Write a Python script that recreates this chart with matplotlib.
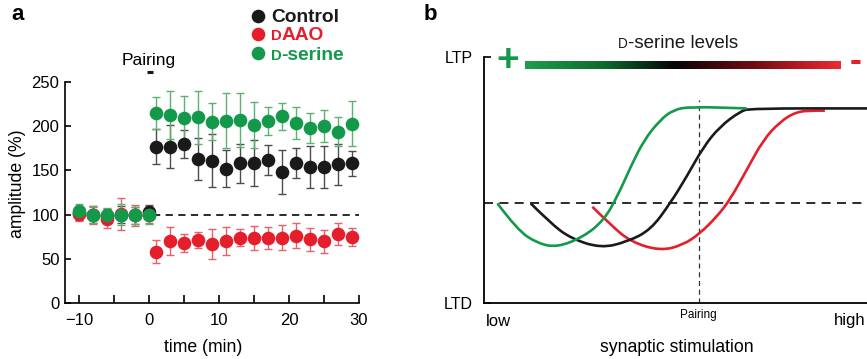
import numpy as np
import matplotlib
matplotlib.use("Agg")
import matplotlib.pyplot as plt
from matplotlib.lines import Line2D
from matplotlib.path import Path
from matplotlib.patches import PathPatch
from matplotlib.colors import LinearSegmentedColormap

plt.rcParams['font.family'] = ['Liberation Sans', 'DejaVu Sans']

# ---------------- panel a data ----------------
t_pre = [-10, -8, -6, -4, -2, 0]
t_post = [1, 3, 5, 7, 9, 11, 13, 15, 17, 19, 21, 23, 25, 27, 29]

control_pre = [102, 100, 98, 100, 99, 103]
control_pre_err = [8, 10, 8, 10, 10, 8]
control_post = [177, 177, 180, 163, 161, 152, 158, 158, 162, 148, 158, 154, 154, 157, 158]
control_post_err = [20, 24, 16, 24, 30, 21, 22, 26, 17, 25, 17, 24, 24, 23, 14]

daao_pre = [101, 99, 95, 101, 99, 100]
daao_pre_err = [8, 10, 10, 18, 12, 10]
daao_post = [58, 70, 68, 71, 67, 70, 74, 73.5, 73.5, 74, 76, 72, 70, 78, 75]
daao_post_err = [13, 16, 10, 9, 17, 16, 10, 14, 12, 14, 14, 13, 13, 12, 10]

serine_pre = [104, 100, 99, 100, 99, 99]
serine_pre_err = [8, 10, 8, 12, 10, 10]
serine_post = [215, 213, 209, 210, 205, 206, 207, 201, 206, 211, 204, 198, 200, 194, 203]
serine_post_err = [18, 27, 25, 30, 21, 31, 30, 26, 16, 15, 18, 17, 18, 16, 25]

baseline = 100
x_ticks = [-10, -5, 0, 5, 10, 15, 20, 25, 30]
x_ticklabels = ['\u221210', '', '0', '', '10', '', '20', '', '30']
y_ticks = [0, 50, 100, 150, 200, 250]

# ---------------- panel b data (schematic curves) ----------------
serine_curve_x = [3.5, 8.7, 13.9, 19.1, 26.1, 31.3, 34.8, 38.3, 41.8, 46.0, 49.4, 53.8, 68.6]
serine_curve_y = [40.5, 29.7, 24.3, 22.6, 27.0, 33.7, 43.2, 55.4, 66.3, 74.4, 78.5, 79.8, 79.1]
control_curve_x = [12.2, 17.4, 22.6, 30.5, 37.4, 43.5, 48.6, 52.9, 57.3, 61.6, 66.8, 69.5, 100]
control_curve_y = [40.5, 32.4, 26.3, 22.3, 24.9, 29.7, 40.5, 51.3, 63.5, 71.7, 77.8, 79.1, 79.1]
daao_curve_x = [28.3, 33.1, 38.3, 46.0, 52.0, 56.4, 60.8, 64.2, 68.6, 72.9, 77.3, 81.6, 86.0, 89.0]
daao_curve_y = [39.1, 31.7, 24.9, 21.2, 23.6, 28.3, 35.1, 41.9, 54.1, 66.3, 73.7, 77.8, 78.2, 78.2]
threshold_level = 40.5
pairing_level = 56.1

GREEN = '#12994a'
RED = '#e41e2b'
BLACK = '#1a1a1a'

W, H = 867, 359
fig = plt.figure(figsize=(W / 100, H / 100), dpi=100)


def fpos(x, y):
    return x / W, 1 - y / H


# ================= panel a =================
ax = fig.add_axes([65 / W, 1 - 303 / H, (359 - 65) / W, (303 - 82) / H])
series = [
    (control_pre + control_post, control_pre_err + control_post_err, BLACK, '#4d4d4d'),
    (daao_pre + daao_post, daao_pre_err + daao_post_err, RED, '#e8606a'),
    (serine_pre + serine_post, serine_pre_err + serine_post_err, GREEN, '#5db06f'),
]
times = t_pre + t_post
for vals, errs, col, ecol in series:
    ax.errorbar(times, vals, yerr=errs, fmt='o', color=col, ms=9.8, mec='none',
                ecolor=ecol, elinewidth=1.0, capsize=2.6, capthick=1.0, zorder=3)

ax.plot([0.6, 30], [baseline, baseline], color=BLACK, lw=1.3, ls=(0, (4, 3)), zorder=1)
ax.plot([-0.3, 0.5], [261, 261], color=BLACK, lw=2.2, clip_on=False, solid_capstyle='butt')
ax.text(0, 274, 'Pairing', ha='center', va='center', fontsize=12.5, clip_on=False)

ax.set_xlim(-12, 30)
ax.set_ylim(0, 250)
ax.set_xticks(x_ticks)
ax.set_xticklabels(x_ticklabels)
ax.set_yticks(y_ticks)
for s in ['top', 'right']:
    ax.spines[s].set_visible(False)
for s in ['left', 'bottom']:
    ax.spines[s].set_linewidth(1.2)
ax.tick_params(axis='x', direction='in', length=5.5, width=1.2, pad=7, labelsize=12)
ax.tick_params(axis='y', direction='in', length=4, width=1.2, pad=4, labelsize=12)
fig.text(*fpos(18, 184), 'amplitude (%)', rotation=90, ha='center', va='center', fontsize=12.7)
fig.text(*fpos(203, 348), 'time (min)', ha='center', va='center', fontsize=12.7)

# legend
renderer = fig.canvas.get_renderer()


def smallcap_text(x, y, first, rest, size, color, weight='normal', ha='left', ratio=0.78):
    t1 = fig.text(0, 0, first, fontsize=size * ratio, color=color, fontweight=weight, va='baseline')
    t2 = fig.text(0, 0, rest, fontsize=size, color=color, fontweight=weight, va='baseline')
    w1 = t1.get_window_extent(renderer).width
    w2 = t2.get_window_extent(renderer).width
    x0 = x if ha == 'left' else x - (w1 + w2) / 2
    t1.set_position(fpos(x0, y))
    t2.set_position(fpos(x0 + w1, y))


for (cy, col) in [(15.7, BLACK), (34.3, RED), (53.3, GREEN)]:
    fig.add_artist(Line2D([258 / W], [1 - cy / H], marker='o', ms=9.8, color=col, mec='none',
                          transform=fig.transFigure))
fig.text(*fpos(271, 22.5), 'Control', fontsize=13.8, fontweight='bold', color=BLACK, va='baseline')
smallcap_text(271, 40.5, 'D', 'AAO', 13.8, RED, 'bold')
smallcap_text(271, 60, 'D', '-serine', 13.8, GREEN, 'bold')

fig.text(*fpos(18, 15), 'a', fontsize=16, fontweight='bold', ha='center', va='center')
fig.text(*fpos(430, 15), 'b', fontsize=16, fontweight='bold', ha='center', va='center')

# ================= panel b =================
bx = fig.add_axes([484 / W, 1 - 303 / H, (W - 484) / W, (303 - 57) / H])
bx.set_xlim(0, 100)
bx.set_ylim(0, 100)
for s in ['top', 'right']:
    bx.spines[s].set_visible(False)
for s in ['left', 'bottom']:
    bx.spines[s].set_linewidth(1.3)
bx.set_xticks([])
bx.set_yticks([0, 100])
bx.set_yticklabels(['LTD', 'LTP'])
bx.tick_params(axis='y', direction='in', length=5, width=1.2, pad=8, labelsize=11.5)


def smooth_path(xs, ys):
    pts = np.column_stack([xs, ys])
    verts = [pts[0]]
    codes = [Path.MOVETO]
    for i in range(1, len(pts) - 1):
        verts += [pts[i], (pts[i] + pts[i + 1]) / 2]
        codes += [Path.CURVE3, Path.CURVE3]
    verts.append(pts[-1])
    codes.append(Path.LINETO)
    return Path(verts, codes)


bx.plot([0, 100], [threshold_level, threshold_level], color=BLACK, lw=1.3, ls=(0, (5, 3.5)), zorder=1)
bx.plot([pairing_level, pairing_level], [0, 82.5], color='#333333', lw=0.9, ls=(0, (4, 3)), zorder=1)

for xs, ys, col, z in [(control_curve_x, control_curve_y, BLACK, 3),
                       (daao_curve_x, daao_curve_y, RED, 2),
                       (serine_curve_x, serine_curve_y, GREEN, 4)]:
    bx.add_patch(PathPatch(smooth_path(xs, ys), facecolor='none', edgecolor=col, lw=1.9,
                           capstyle='butt', zorder=z, clip_on=False))

# colour bar for D-serine levels
cmap = LinearSegmentedColormap.from_list(
    'dser', [(0, '#1f9e4a'), (0.25, '#0c6a2e'), (0.47, '#050505'), (0.72, '#6e0b12'), (1, '#ee2a33')])
grad = np.linspace(0, 1, 256).reshape(1, -1)
bx.imshow(grad, cmap=cmap, aspect='auto', extent=[10.7, 93.0, 95.1, 98.3], clip_on=False, zorder=2)
bx.set_xlim(0, 100)
bx.set_ylim(0, 100)

fig.text(*fpos(508, 61), '+', fontsize=28, fontweight='bold', color=GREEN, ha='center', va='center')
fig.text(*fpos(856, 61), '-', fontsize=26, fontweight='bold', color=RED, ha='center', va='center')
smallcap_text(678, 48.3, 'D', '-serine levels', 13.5, BLACK, ha='center', ratio=0.72)

fig.text(*fpos(498, 321), 'low', fontsize=12, ha='center', va='center')
fig.text(*fpos(850, 320), 'high', fontsize=12, ha='center', va='center')
fig.text(*fpos(698, 315), 'Pairing', fontsize=8.5, ha='center', va='center')
fig.text(*fpos(677, 348), 'synaptic stimulation', fontsize=12.7, ha='center', va='center')

fig.savefig('out.png', dpi=100)
